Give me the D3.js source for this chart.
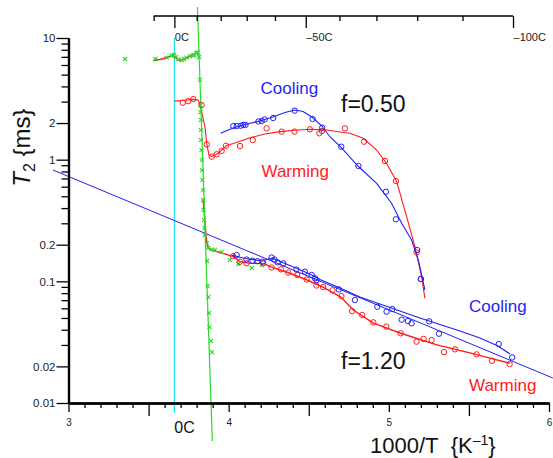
<!DOCTYPE html>
<html><head><meta charset="utf-8">
<script src="https://cdn.jsdelivr.net/npm/d3@7"></script>
<style>
html,body{margin:0;padding:0;background:#fff;}
svg{display:block;font-family:"Liberation Sans",Arial,sans-serif;}
</style></head>
<body>
<svg id="c" width="553" height="458"></svg>
<script>
// ---------- data (x = 1000/T [1/K], y = T2 [ms]) ----------
const xTickLabels = ["3","4","5","6"];
const yTickValues = [10,2,1,0.2,0.1,0.02,0.01];
const yTickLabels = ["10","2","1","0.2","0.1","0.02","0.01"];
const celsiusTicks = [10,0,-10,-20,-30,-40,-50,-60,-70,-80,-90,-100];
const celsiusLabeled = [0,-50,-100];

// green x markers (pure water/ice trace)
const greenPoints = [
 [3.353,6.72],[3.543,6.72],[3.613,6.91],[3.644,7.18],[3.659,7.25],[3.671,6.98],[3.685,6.66],
 [3.707,6.59],[3.721,6.72],[3.737,6.91],[3.758,7.11],[3.774,7.18],[3.785,7.25],[3.799,7.53],
 [3.805,7.60],[3.815,6.98],
 [3.821,4.52],[3.824,2.81],[3.824,2.46],[3.827,2.12],[3.827,1.75],[3.827,1.45],[3.830,1.20],
 [3.833,0.994],[3.833,0.822],[3.836,0.681],[3.840,0.563],[3.840,0.466],[3.843,0.386],
 [3.846,0.319],[3.849,0.274],[3.852,0.240],[3.863,0.2065],[3.873,0.188],[3.894,0.1826],
 [3.914,0.181],[3.956,0.174],[4.008,0.1497],[4.060,0.1388],[4.144,0.1287],[4.206,0.1362],
 [3.865,0.1469],[3.869,0.0915],[3.873,0.0743],[3.877,0.0549],[3.880,0.0421],[3.890,0.0323],[3.896,0.0262]
];
const greenPlateauLine = [
 [3.527,6.53],[3.571,6.66],[3.615,6.91],[3.646,7.18],[3.671,6.85],[3.690,6.53],
 [3.715,6.66],[3.740,6.91],[3.771,7.18],[3.802,7.53]
];
const greenFit = [[3.805,18.0],[3.898,0.00487]];
const zeroCLine = [[3.661,10],[3.661,0.00828]];

// f = 0.50
const warm050Points = [
 [3.713,2.94],[3.748,3.03],[3.779,3.15],[3.831,2.81],[3.863,1.337],[3.894,1.058],[3.925,1.107],
 [3.956,1.178],[3.983,1.302],[4.071,1.295],[4.150,1.45],[4.237,1.81],[4.331,1.70],[4.411,1.70],
 [4.507,1.777],[4.566,1.647],[4.582,1.72],[4.726,1.81],[4.845,1.405],[4.976,0.975],[5.044,0.668],
 [5.173,0.173],[5.200,0.1045]
];
const warm050Line = [
 [3.660,3.03],[3.715,3.06],[3.779,3.13],[3.808,3.09],[3.821,2.87],[3.840,2.20],[3.852,1.855],
 [3.863,1.363],[3.877,1.092],[3.894,1.058],[3.935,1.128],[3.987,1.307],[4.039,1.37],[4.133,1.515],
 [4.227,1.625],[4.320,1.70],[4.414,1.743],[4.507,1.777],[4.612,1.753],[4.695,1.688],[4.757,1.647],
 [4.840,1.498],[4.924,1.20],[4.986,0.933],[5.049,0.659],[5.111,0.34],[5.163,0.1925],[5.205,0.109],[5.225,0.0725]
];
const cool050Points = [
 [4.029,1.89],[4.050,1.89],[4.075,1.90],[4.091,1.93],[4.105,1.93],[4.186,2.06],[4.206,2.08],
 [4.225,2.14],[4.278,2.20],[4.412,2.53],[4.524,2.16],[4.584,1.83],[4.703,1.278],[4.810,0.887],
 [4.982,0.545],[5.044,0.3235],[5.177,0.181],[5.200,0.1045]
];
const cool050Line = [
 [3.950,1.647],[4.027,1.82],[4.102,1.945],[4.195,2.08],[4.276,2.24],[4.351,2.44],[4.414,2.56],
 [4.464,2.49],[4.520,2.24],[4.582,1.89],[4.632,1.544],[4.701,1.27],[4.807,0.887],[4.924,0.639],
 [5.017,0.438],[5.080,0.30],[5.142,0.2186],[5.184,0.1497],[5.225,0.0849]
];

// f = 1.20
const cool120Points = [
 [4.050,0.1646],[4.112,0.151],[4.149,0.1477],[4.180,0.1463],[4.211,0.145],[4.268,0.157],
 [4.286,0.1506],[4.305,0.1434],[4.341,0.1406],[4.423,0.1251],[4.476,0.120],[4.518,0.1127],
 [4.539,0.1059],[4.549,0.1025],[4.688,0.0857],[4.788,0.0702],[4.928,0.0618],[4.986,0.0563],
 [5.022,0.0592],[5.080,0.0484],[5.119,0.0472],[5.142,0.0452],[5.252,0.0469],[5.313,0.0371],
 [5.686,0.0305],[5.770,0.0237]
];
const cool120Line = [
 [4.019,0.1646],[4.102,0.154],[4.208,0.1469],[4.270,0.1555],[4.351,0.140],[4.426,0.1274],
 [4.507,0.1148],[4.570,0.1035],[4.695,0.0881],[4.820,0.0743],[4.944,0.0651],[5.069,0.057],
 [5.194,0.050],[5.319,0.0442],[5.444,0.039],[5.569,0.0342],[5.681,0.0294],[5.756,0.0253]
];
const cool120Fit = [[2.903,0.822],[6.024,0.01604]];
const warm120Points = [
 [4.027,0.1606],[4.071,0.145],[4.112,0.1406],[4.216,0.1406],[4.268,0.130],[4.326,0.1256],
 [4.372,0.1182],[4.428,0.1127],[4.487,0.1035],[4.548,0.0924],[4.590,0.0898],[4.648,0.0844],
 [4.704,0.0757],[4.771,0.0570],[4.834,0.0529],[4.903,0.0460],[4.984,0.0424],[5.074,0.0374],
 [5.173,0.0319],[5.217,0.0336],[5.267,0.0329],[5.344,0.0262],[5.413,0.0276],[5.548,0.0251],
 [5.644,0.0222],[5.754,0.0209]
];
const warm120Line = [
 [3.840,0.466],[3.849,0.351],[3.855,0.264],[3.863,0.2117],[3.873,0.187],[3.894,0.181],
 [3.966,0.170],[4.029,0.1594],[4.071,0.145],[4.133,0.1406],[4.216,0.1406],[4.268,0.131],
 [4.370,0.1182],[4.483,0.1035],[4.589,0.0898],[4.701,0.0743],[4.778,0.0581],[4.901,0.0455],
 [5.069,0.0376],[5.300,0.030],[5.506,0.0258],[5.631,0.0234],[5.756,0.0212]
];

// ---------- drawing ----------
const svg = d3.select("#c");
const xs = d3.scaleLinear().domain([3,6]).range([68.5,549]);
const ys = d3.scaleLog().domain([0.01,10]).range([403,38]);
const line = d3.line().x(d=>xs(d[0])).y(d=>ys(d[1]));

const BLUE="#1f1ff5", RED="#ff1a1a", GREEN="#2bd92b";

// reference lines
svg.append("path").datum(zeroCLine).attr("d",line).attr("stroke","#19e6f0").attr("stroke-width",1.2).attr("fill","none");
svg.append("path").datum(cool120Fit).attr("d",line).attr("stroke",BLUE).attr("stroke-width",1).attr("fill","none");

// fitted curves
svg.append("path").datum(greenPlateauLine).attr("d",line).attr("stroke",RED).attr("stroke-width",1.4).attr("fill","none");
svg.append("path").datum(warm050Line).attr("d",line).attr("stroke",RED).attr("stroke-width",1.1).attr("fill","none");
svg.append("path").datum(cool050Line).attr("d",line).attr("stroke",BLUE).attr("stroke-width",1.1).attr("fill","none");
svg.append("path").datum(warm120Line).attr("d",line).attr("stroke",RED).attr("stroke-width",1.4).attr("fill","none");
svg.append("path").datum(cool120Line).attr("d",line).attr("stroke",BLUE).attr("stroke-width",1.1).attr("fill","none");

// green markers
const gx = svg.append("g");
gx.selectAll("path").data(greenPoints).join("path")
  .attr("transform",d=>`translate(${xs(d[0])},${ys(d[1])})`)
  .attr("d","M-2,-2L2,2M-2,2L2,-2").attr("stroke",GREEN).attr("stroke-width",1.1).attr("fill","none");
svg.append("path").datum(greenFit).attr("d",line).attr("stroke",GREEN).attr("stroke-width",1.2).attr("fill","none");

function circles(data,color){
  svg.append("g").selectAll("circle").data(data).join("circle")
    .attr("cx",d=>xs(d[0])).attr("cy",d=>ys(d[1])).attr("r",2.7)
    .attr("fill","none").attr("stroke",color).attr("stroke-width",1);
}
circles(warm050Points,RED);
circles(cool050Points,BLUE);
circles(warm120Points,RED);
circles(cool120Points,BLUE);

// ---------- axes ----------
function styleAxis(g,w){
  g.selectAll(".domain").attr("stroke","#000").attr("stroke-width",w);
  g.selectAll(".tick line").attr("stroke","#000").attr("stroke-width",1.3);
}
// left
const yMinor = [];
[0.01,0.1,1].forEach(b=>{for(let k=2;k<=9;k++){const v=+(b*k).toPrecision(3); if(!yTickValues.includes(v)) yMinor.push(v);} });
const gL1 = svg.append("g").attr("transform","translate(68.5,0)")
  .call(d3.axisLeft(ys).tickValues(yMinor).tickSize(7).tickSizeOuter(0).tickFormat(""));
styleAxis(gL1,2.2);
const gL2 = svg.append("g").attr("transform","translate(68.5,0)")
  .call(d3.axisLeft(ys).tickValues(yTickValues).tickSize(12).tickPadding(1).tickSizeOuter(0)
    .tickFormat((d,i)=>yTickLabels[i]));
styleAxis(gL2,2.2);
gL2.selectAll("text").attr("font-size",11.5).attr("fill","#222").attr("font-family","Liberation Sans, Arial, sans-serif");

// bottom
const xMinor = d3.range(30,61).map(v=>v/10).filter(v=>Math.abs(v*2-Math.round(v*2))>1e-6);
const xHalf = [3.5,4.5,5.5];
const xMajor = [3,4,5,6];
const gB1 = svg.append("g").attr("transform","translate(0,403)")
  .call(d3.axisBottom(xs).tickValues(xMinor).tickSize(5).tickSizeOuter(0).tickFormat(""));
styleAxis(gB1,2.2);
const gB2 = svg.append("g").attr("transform","translate(0,403)")
  .call(d3.axisBottom(xs).tickValues(xHalf).tickSize(13).tickSizeOuter(0).tickFormat(""));
styleAxis(gB2,2.2);
const gB3 = svg.append("g").attr("transform","translate(0,403)")
  .call(d3.axisBottom(xs).tickValues(xMajor).tickSize(9).tickPadding(7).tickSizeOuter(0)
    .tickFormat((d,i)=>xTickLabels[i]));
styleAxis(gB3,2.2);
gB3.selectAll("text").attr("font-size",10).attr("fill","#222").attr("font-family","Liberation Sans, Arial, sans-serif");

// top (Celsius)
const toInvT = c=>1000/(c+273.15);
const topScale = d3.scaleLinear().domain(xs.domain()).range(xs.range());
const gT1 = svg.append("g").attr("transform","translate(0,16)")
  .call(d3.axisTop(topScale).tickValues(celsiusTicks.filter(c=>!celsiusLabeled.includes(c)).map(toInvT))
    .tickSize(-5).tickSizeOuter(0).tickFormat(""));
gT1.select(".domain").attr("d",`M${xs(toInvT(10))},0H${xs(toInvT(-100))}`);
styleAxis(gT1,1.6);
const gT2 = svg.append("g").attr("transform","translate(0,16)")
  .call(d3.axisTop(topScale).tickValues(celsiusLabeled.map(toInvT))
    .tickSize(-12).tickSizeOuter(0).tickFormat(v=>{const c=Math.round(1000/v-273.15); return (c<0?"\u2013"+(-c):c)+"C";}));
gT2.select(".domain").remove();
styleAxis(gT2,1.6);
gT2.selectAll("text").attr("y",24.5).attr("dy",null).attr("x",0).attr("text-anchor","start")
  .attr("font-size",11).attr("fill","#222").attr("font-family","Liberation Sans, Arial, sans-serif");

// ---------- annotations ----------
function txt(x,y,s,size,color){
  return svg.append("text").attr("x",x).attr("y",y).attr("font-size",size).attr("fill",color).text(s);
}
txt(260.5,94,"Cooling",17,BLUE);
txt(341,111.5,"f=0.50",23,"#111");
txt(261.5,176.7,"Warming",17,RED);
txt(469,311.7,"Cooling",17,BLUE);
txt(341,369.3,"f=1.20",23,"#111");
txt(469,390.7,"Warming",17,RED);
txt(174.3,433.3,"0C",16,"#111");

// x title
const xt = svg.append("text").attr("x",370).attr("y",452.7).attr("font-size",22).attr("fill","#111");
xt.append("tspan").text("1000/T\u00a0\u00a0{K");
xt.append("tspan").attr("dy",-8).attr("font-size",14).text("\u20131");
xt.append("tspan").attr("dy",8).text("}");

// y title
const yt = svg.append("text").attr("transform","translate(29.5,147.5) rotate(-90)")
  .attr("text-anchor","middle").attr("font-size",24).attr("fill","#111");
yt.append("tspan").attr("font-style","italic").text("T");
yt.append("tspan").attr("dy",5).attr("font-size",16).text("2");
yt.append("tspan").attr("dy",-5).text("\u00a0{ms}");
</script>
</body></html>
